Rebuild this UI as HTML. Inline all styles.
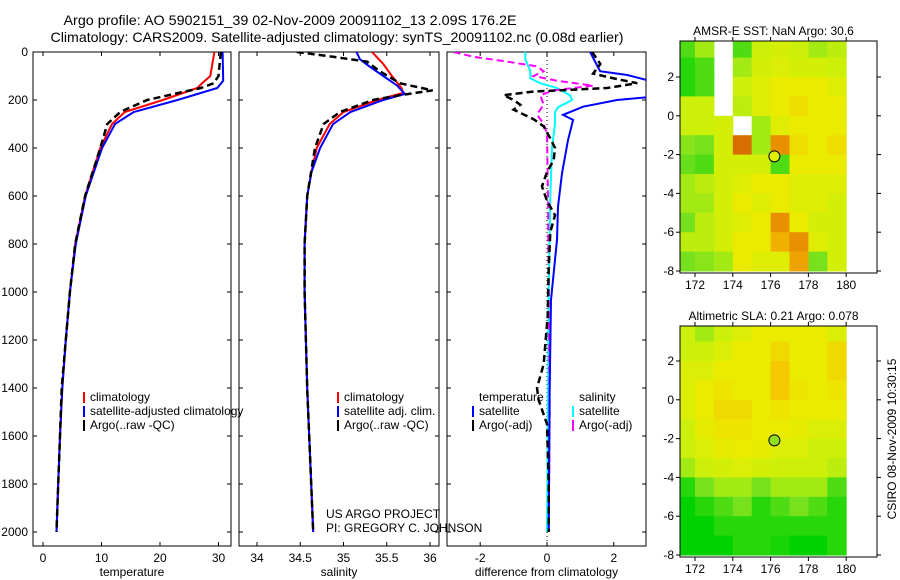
<!DOCTYPE html>
<html><head><meta charset="utf-8"><style>
html,body{margin:0;padding:0;background:#fff;}
svg{display:block;font-family:"Liberation Sans",sans-serif;}
</style></head><body>
<svg id="fig" width="900" height="580" viewBox="0 0 900 580">
<text x="290" y="25" font-size="14" text-anchor="middle" textLength="453" lengthAdjust="spacingAndGlyphs">Argo profile: AO 5902151_39 02-Nov-2009 20091102_13 2.09S 176.2E</text>
<text x="337" y="42" font-size="14" text-anchor="middle" textLength="573" lengthAdjust="spacingAndGlyphs">Climatology: CARS2009. Satellite-adjusted climatology: synTS_20091102.nc (0.08d earlier)</text>
</svg>
<script>
// ---------- data ----------
const depthTicks=[0,200,400,600,800,1000,1200,1400,1600,1800,2000];
const tempTicks=[0,10,20,30];
const salTicks=[34,34.5,35,35.5,36];
const diffTicks=[-2,0,2];
const tClimDepth=[0,100,130,150,200,250,300,400,600,800,1000,1200,1400,1600,1800,2000];
const tClim=[29.3,28.6,27.2,26.4,20.5,14,11.8,9.8,7.2,5.5,4.6,3.9,3.3,2.9,2.6,2.3];
const tSatDepth=[0,120,150,175,200,250,300,400,600,800,1000,1200,1400,1600,1800,2000];
const tSat=[30.7,30.8,29.8,26.4,23,15.5,12.3,10.1,7.3,5.6,4.6,3.9,3.3,2.9,2.6,2.3];
const tArgoDepth=[0,100,130,150,200,250,300,400,600,800,1000,1200,1400,1600,1800,2000];
const tArgo=[30.4,30,29.2,27,17.8,13.2,11,9.8,7.2,5.5,4.6,3.9,3.2,2.9,2.6,2.3];
const sClimDepth=[0,50,100,150,170,200,250,300,400,500,600,800,1000,1400,2000];
const sClim=[35.33,35.46,35.56,35.67,35.69,35.39,35.0,34.84,34.69,34.63,34.58,34.55,34.55,34.58,34.65];
const sSatDepth=[0,30,60,100,140,175,200,250,300,400,500,600,800,1000,1400,2000];
const sSat=[35.15,35.19,35.3,35.46,35.62,35.71,35.46,35.08,34.88,34.73,34.63,34.58,34.55,34.55,34.58,34.65];
const sArgoDepth=[0,20,40,80,130,160,180,200,250,300,400,600,800,1000,1400,2000];
const sArgo=[34.46,34.88,35.27,35.42,35.65,36.03,35.65,35.34,34.96,34.77,34.67,34.58,34.55,34.55,34.58,34.65];
const dTSatDepth=[0,80,96,124,186,200,228,262,283,367,506,644,783,1033,1400,2000];
const dTSat=[1.29,1.59,2.4,3.2,3.2,2.1,1.08,0.48,0.78,0.63,0.45,0.33,0.3,0.12,0.08,0.05];
const dTArgoDepth=[0,50,90,110,130,150,165,180,200,220,240,280,310,360,400,450,500,560,620,680,750,900,1100,1300,1400,1450,1550,1800,2000];
const dTArgo=[1.35,1.6,1.38,2,2.7,1.8,-0.42,-1.3,-1,-0.8,-1,-0.4,-0.1,0.1,0.24,0.2,0,-0.15,0,0.24,0.1,0.05,0.02,-0.1,-0.3,-0.25,0,0.05,0.05];
const dSArgoDepth=[0,20,40,60,80,100,120,140,160,180,220,260,300,340,600,1000,1500,2000];
const dSArgo=[-2.8,-2.2,-1.2,-0.3,-0.1,-0.4,0.3,1.38,0.2,-0.2,-0.1,-0.3,-0.1,0,0.03,0.05,0.08,0.05];
const dSSatDepth=[0,30,80,110,130,150,180,200,230,250,300,400,600,1000,1500,2000];
const dSSat=[-0.65,-0.65,-0.5,-0.5,-0.2,0.3,0.69,0.75,0.33,0.24,0.24,0.15,0.1,0.05,0.03,0.0];
const mapLons=[171.5,172.5,173.5,174.5,175.5,176.5,177.5,178.5,179.5];
const mapLats=[3.5,2.5,1.5,0.5,-0.5,-1.5,-2.5,-3.5,-4.5,-5.5,-6.5,-7.5];
const lonTicks=[172,174,176,178,180];
const latTicks=[-8,-6,-4,-2,0,2];
const NA=null;
const sstGrid=[
[0.35,0.45,NA,0.35,0.5,0.52,0.5,0.45,0.48],
[0.3,0.35,NA,0.45,0.52,0.55,0.52,0.52,0.5],
[0.3,0.35,NA,0.5,0.56,0.6,0.6,0.6,0.56],
[0.5,0.5,NA,0.48,0.56,0.6,0.64,0.6,0.6],
[0.5,0.5,0.52,NA,0.45,0.56,0.6,0.6,0.6],
[0.42,0.4,0.52,0.88,0.45,0.82,0.64,0.6,0.64],
[0.38,0.35,0.52,0.52,0.52,0.35,0.6,0.6,0.6],
[0.45,0.48,0.52,0.56,0.6,0.6,0.56,0.56,0.56],
[0.45,0.45,0.52,0.6,0.56,0.6,0.56,0.56,0.52],
[0.4,0.48,0.52,0.56,0.6,0.82,0.6,0.52,0.52],
[0.48,0.48,0.52,0.6,0.6,0.75,0.82,0.56,0.52],
[0.4,0.42,0.45,0.6,0.56,0.56,0.78,0.4,0.52]];
const slaGrid=[
[0.5,0.45,0.5,0.55,0.6,0.6,0.6,0.6,0.55],
[0.5,0.5,0.55,0.6,0.6,0.65,0.6,0.6,0.65],
[0.55,0.55,0.6,0.6,0.6,0.7,0.6,0.6,0.65],
[0.55,0.6,0.62,0.6,0.6,0.7,0.62,0.6,0.62],
[0.55,0.6,0.65,0.65,0.6,0.62,0.6,0.6,0.6],
[0.5,0.58,0.62,0.62,0.6,0.6,0.58,0.55,0.55],
[0.5,0.55,0.58,0.6,0.58,0.55,0.55,0.5,0.5],
[0.45,0.5,0.52,0.55,0.52,0.5,0.5,0.5,0.48],
[0.3,0.4,0.45,0.45,0.4,0.45,0.45,0.45,0.35],
[0.25,0.3,0.35,0.4,0.3,0.35,0.4,0.35,0.3],
[0.25,0.25,0.3,0.3,0.3,0.3,0.3,0.3,0.3],
[0.25,0.25,0.25,0.3,0.3,0.28,0.25,0.25,0.3]];
const floatLon=176.2, floatLat=-2.09;

// ---------- drawing ----------
const svg=document.getElementById('fig');
const SVGNS='http://www.w3.org/2000/svg';
function mk(tag,attrs){const e=document.createElementNS(SVGNS,tag);for(const k in attrs)e.setAttribute(k,attrs[k]);svg.appendChild(e);return e;}
function txt(x,y,s,anchor,size){const t=mk('text',{x:x,y:y,'font-size':size||12,'text-anchor':anchor||'start'});t.textContent=s;return t;}

const defs=mk('defs',{});
const Y=d=>52+d*0.24;
const panels=[
 {l:33,r:231,x:v=>43+v*5.85,ticks:tempTicks,label:'temperature',name:'temperature'},
 {l:239,r:439,x:v=>257+(v-34)*86.5,ticks:salTicks,label:'salinity',name:'salinity'},
 {l:447,r:646,x:v=>547+v*33.4,ticks:diffTicks,label:'difference from climatology',name:'difference'}];
const pTop=52,pBot=546;
panels.forEach((p,i)=>{
 const c=document.createElementNS(SVGNS,'clipPath');c.setAttribute('id','clip'+i);
 const r=document.createElementNS(SVGNS,'rect');r.setAttribute('x',p.l);r.setAttribute('y',pTop);r.setAttribute('width',p.r-p.l);r.setAttribute('height',pBot-pTop);
 c.appendChild(r);defs.appendChild(c);
 const b=mk('rect',{x:p.l,y:pTop,width:p.r-p.l,height:pBot-pTop,fill:'none',stroke:'#000','stroke-width':1});
 
 
 depthTicks.forEach(d=>{
  mk('line',{x1:p.l,x2:p.l+4,y1:Y(d),y2:Y(d),stroke:'#000'});
  mk('line',{x1:p.r-4,x2:p.r,y1:Y(d),y2:Y(d),stroke:'#000'});
  if(i===0){const t=txt(p.l-5,Y(d)+4,String(d),'end');
   
   }
 });
 p.ticks.forEach(v=>{
  const x=p.x(v);
  mk('line',{x1:x,x2:x,y1:pTop,y2:pTop+4,stroke:'#000'});
  mk('line',{x1:x,x2:x,y1:pBot-4,y2:pBot,stroke:'#000'});
  const t=txt(x,pBot+16,String(v),'middle');
  
  
 });
 const xl=txt((p.l+p.r)/2,pBot+30,p.label,'middle');
 
 
});
function series(p,depths,vals,color,dash,w,name){
 const pts=depths.map((d,i)=>p.x(vals[i]).toFixed(1)+','+Y(d).toFixed(1)).join(' ');
 const cp=mk('polyline',{points:pts,fill:'none',stroke:color,'stroke-width':w,'stroke-dasharray':dash||'none','clip-path':'url(#clip'+panels.indexOf(p)+')'});
 
 
}
const zl=mk('line',{x1:panels[2].x(0),x2:panels[2].x(0),y1:pTop,y2:pBot,stroke:'#000','stroke-dasharray':'1,3'});


series(panels[0],tClimDepth,tClim,'#f00','',2,'temperature-climatology-line');
series(panels[0],tSatDepth,tSat,'#00f','',2,'temperature-satellite-line');
series(panels[0],tArgoDepth,tArgo,'#000','7,4',2.5,'temperature-argo-line');
series(panels[1],sClimDepth,sClim,'#f00','',2,'salinity-climatology-line');
series(panels[1],sSatDepth,sSat,'#00f','',2,'salinity-satellite-line');
series(panels[1],sArgoDepth,sArgo,'#000','7,4',2.5,'salinity-argo-line');
series(panels[2],dSSatDepth,dSSat,'#0ff','',2,'salinity-diff-satellite-line');
series(panels[2],dSArgoDepth,dSArgo,'#f0f','7,4',2,'salinity-diff-argo-line');
series(panels[2],dTSatDepth,dTSat,'#00f','',2,'temperature-diff-satellite-line');
series(panels[2],dTArgoDepth,dTArgo,'#000','7,4',2.5,'temperature-diff-argo-line');

function legend(x,y,items,name){
 items.forEach((it,i)=>{
  const yy=y+i*14;
  if(it.c){const l=mk('line',{x1:x,x2:x,y1:yy-9,y2:yy+2,stroke:it.c,'stroke-width':2});
   
   }
  const t=txt(x+6,yy,it.t,'start');
  
  
 });
}
legend(84,401,[{c:'#f00',t:'climatology'},{c:'#00f',t:'satellite-adjusted climatology'},{c:'#000',t:'Argo(..raw -QC)'}],'temperature-legend');
legend(338,401,[{c:'#f00',t:'climatology'},{c:'#00f',t:'satellite adj. clim.'},{c:'#000',t:'Argo(..raw -QC)'}],'salinity-legend');
legend(473,401,[{c:null,t:'temperature'},{c:'#00f',t:'satellite'},{c:'#000',t:'Argo(-adj)'}],'diff-temperature-legend');
legend(573,401,[{c:null,t:'salinity'},{c:'#0ff',t:'satellite'},{c:'#f0f',t:'Argo(-adj)'}],'diff-salinity-legend');
const c1=txt(326,518,'US ARGO PROJECT');


const c2=txt(326,532,'PI: GREGORY C. JOHNSON');



// ---------- maps ----------
const stops=[[0,[0,80,255]],[0.25,[0,210,0]],[0.4,[120,225,30]],[0.5,[205,240,10]],[0.6,[235,235,0]],[0.7,[245,200,0]],[0.85,[230,130,0]],[1,[160,30,0]]];
function cmap(v){for(let i=1;i<stops.length;i++){if(v<=stops[i][0]){const a=stops[i-1],b=stops[i];const f=(v-a[0])/(b[0]-a[0]);return 'rgb('+a[1].map((c,k)=>Math.round(c+(b[1][k]-c)*f)).join(',')+')';}}return 'rgb(160,30,0)';}
function drawMap(m){
 const X=lo=>695+(lo-172)*18.9, YY=la=>m.y2-(la-2)*19.4;
 const c=document.createElementNS(SVGNS,'clipPath');c.setAttribute('id',m.id);
 const r=document.createElementNS(SVGNS,'rect');r.setAttribute('x',m.l);r.setAttribute('y',m.t);r.setAttribute('width',m.r-m.l);r.setAttribute('height',m.b-m.t);
 c.appendChild(r);defs.appendChild(c);
 const g=mk('g',{'clip-path':'url(#'+m.id+')'});
 
 
 m.grid.forEach((row,j)=>row.forEach((v,i)=>{
  if(v===null)return;
  const cell=document.createElementNS(SVGNS,'rect');
  cell.setAttribute('x',X(mapLons[i]-0.5));cell.setAttribute('y',YY(mapLats[j]+0.5));
  cell.setAttribute('width',19.4);cell.setAttribute('height',19.9);
  cell.setAttribute('fill',cmap(v));
  
  
  g.appendChild(cell);
 }));
 const w=mk('rect',{x:855,y:m.t,width:22,height:m.b-m.t,fill:'#fff'});
 
 
 const ci=mk('circle',{cx:X(floatLon),cy:YY(floatLat),r:5.5,fill:m.dot,stroke:'#000','stroke-width':1});
 
 
 const fr=mk('rect',{x:m.l,y:m.t,width:m.r-m.l,height:m.b-m.t,fill:'none',stroke:'#000'});
 
 
 lonTicks.forEach(lo=>{const x=X(lo);mk('line',{x1:x,x2:x,y1:m.b,y2:m.b+4,stroke:'#000'});mk('line',{x1:x,x2:x,y1:m.t-4,y2:m.t,stroke:'#000'});
  const t=txt(x,m.b+16,String(lo),'middle');
  
  });
 latTicks.forEach(la=>{const y=YY(la);mk('line',{x1:m.l-4,x2:m.l,y1:y,y2:y,stroke:'#000'});mk('line',{x1:m.r,x2:m.r+4,y1:y,y2:y,stroke:'#000'});
  const t=txt(m.l-6,y+4,String(la),'end');
  
  });
 const tt=txt((m.l+m.r)/2-5,m.t-6,m.title,'middle');
 
 
}
drawMap({id:'mclip1',name:'sst-map',l:680,r:877,t:41,b:273,y2:77,grid:sstGrid,dot:'#e0f000',title:'AMSR-E SST: NaN Argo: 30.6'});
drawMap({id:'mclip2',name:'sla-map',l:680,r:877,t:326,b:557,y2:361,grid:slaGrid,dot:'#90e020',title:'Altimetric SLA: 0.21 Argo: 0.078'});
const st=mk('text',{x:0,y:0,'font-size':12,'text-anchor':'middle',transform:'translate(896,439) rotate(-90)'});
st.textContent='CSIRO 08-Nov-2009 10:30:15';


</script>
</body></html>
